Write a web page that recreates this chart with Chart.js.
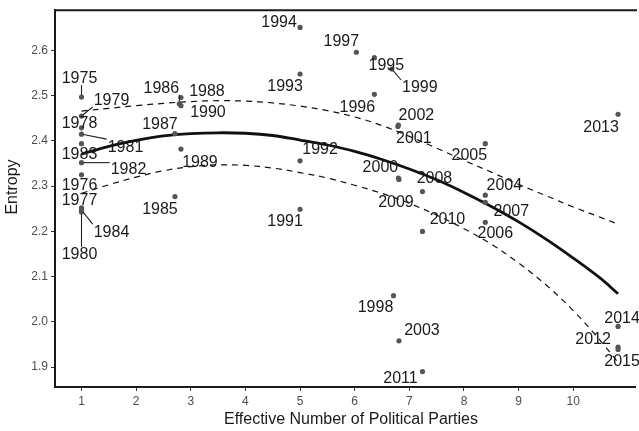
<!DOCTYPE html>
<html>
<head>
<meta charset="utf-8">
<script src="https://cdn.jsdelivr.net/npm/chart.js@4/dist/chart.umd.min.js"></script>
<style>
  html, body { margin: 0; padding: 0; background: #fff; overflow: hidden; }
  canvas { display: block; }
</style>
</head>
<body>
<canvas id="c" width="639" height="431"></canvas>
<script>
// Election years with effective number of parties and entropy
const years = ['1975','1976','1977','1978','1979','1980','1981','1982','1983','1984',
               '1985','1986','1987','1988','1989','1990','1991','1992','1993','1994',
               '1995','1996','1997','1998','1999','2000','2001','2002','2003','2004',
               '2005','2006','2007','2008','2009','2010','2011','2012','2013','2014','2015'];
const enpp = [1, 1, 1, 1, 1, 1, 1, 1, 1, 1,
              2.71, 2.79, 2.71, 2.82, 2.82, 2.82, 5.00, 5.00, 5.00, 5.00,
              6.36, 6.36, 6.03, 6.71, 6.68, 6.80, 6.79, 6.80, 6.81, 8.39,
              8.39, 8.39, 8.39, 7.24, 6.81, 7.24, 7.24, 10.82, 10.82, 10.82, 10.82];
const entropy = [2.497, 2.325, 2.252, 2.429, 2.455, 2.243, 2.415, 2.352, 2.394, 2.247,
                 2.277, 2.482, 2.416, 2.496, 2.382, 2.478, 2.249, 2.356, 2.548, 2.651,
                 2.584, 2.503, 2.596, 2.058, 2.559, 2.318, 2.432, 2.435, 1.958, 2.280,
                 2.394, 2.220, 2.264, 2.288, 2.315, 2.200, 1.890, 1.944, 2.459, 1.990, 1.939];

// Quadratic trend and its confidence band
const fitX     = [1, 1.5, 2, 2.5, 3, 3.5, 4, 4.5, 5, 5.5, 6, 6.5, 7, 7.5, 8, 8.5, 9, 9.5, 10, 10.5, 10.82];
const fitMid   = [2.371, 2.388, 2.401, 2.411, 2.416, 2.418, 2.417, 2.412, 2.402, 2.391, 2.377,
                  2.359, 2.338, 2.314, 2.286, 2.255, 2.221, 2.183, 2.141, 2.096, 2.062];
const fitUpper = [2.466, 2.472, 2.478, 2.483, 2.487, 2.489, 2.488, 2.484, 2.477, 2.467, 2.453,
                  2.434, 2.410, 2.384, 2.357, 2.331, 2.304, 2.279, 2.254, 2.231, 2.216];
const fitLower = [2.284, 2.303, 2.320, 2.334, 2.343, 2.347, 2.346, 2.340, 2.330, 2.318, 2.302,
                  2.284, 2.262, 2.236, 2.206, 2.172, 2.130, 2.082, 2.025, 1.958, 1.910];

const xTicks = [1, 2, 3, 4, 5, 6, 7, 8, 9, 10];
const yTicks = [1.9, 2.0, 2.1, 2.2, 2.3, 2.4, 2.5, 2.6];

// Label placement: offset of each label centre from its point, in pixels
const labelOffsets = {
  '1975': [-2, -19], '1976': [-2, 10], '1977': [-2, -8], '1978': [-2, -5], '1979': [30, -16],
  '1980': [-2, 42], '1981': [44, 12], '1982': [47, 6], '1983': [-2, 10], '1984': [30, 21],
  '1985': [-15, 12], '1986': [-18, -16], '1987': [-15, -10], '1988': [26, -7], '1989': [19, 13],
  '1990': [27, 6], '1991': [-15, 11], '1992': [20, -12], '1993': [-15, 12], '1994': [-21, -6],
  '1995': [12, 7], '1996': [-17, 12], '1997': [-15, -12], '1998': [-18, 11], '1999': [28, 18],
  '2000': [-18, -11], '2001': [16, 11], '2002': [18, -11], '2003': [23, -11], '2004': [19, -11],
  '2005': [-16, 11], '2006': [10, 10], '2007': [26, 8], '2008': [12, -14], '2009': [-3, 22],
  '2010': [25, -13], '2011': [-22, 6], '2012': [-25, -9], '2013': [-17, 12], '2014': [4, -9],
  '2015': [4, 11]
};
const leaderYears = ['1975', '1979', '1980', '1981', '1982', '1984', '1986', '1999'];

const FONT = "'Liberation Sans', Arial, Helvetica, sans-serif";

const pointData = years.map((yr, i) => ({ x: enpp[i], y: entropy[i], label: yr }));
const curve = arr => fitX.map((x, i) => ({ x, y: arr[i] }));

// Year labels with short connector segments
const yearLabels = {
  id: 'yearLabels',
  afterDatasetsDraw(chart) {
    const ctx = chart.ctx;
    const meta = chart.getDatasetMeta(0);
    ctx.save();
    ctx.font = '16px ' + FONT;
    ctx.textAlign = 'center';
    ctx.textBaseline = 'middle';
    meta.data.forEach((el, i) => {
      const yr = years[i];
      const off = labelOffsets[yr] || [0, -12];
      const cx = el.x + off[0], cy = el.y + off[1];
      if (leaderYears.includes(yr)) {
        const w = ctx.measureText(yr).width / 2 + 1, h = 7;
        const nx = Math.max(cx - w, Math.min(el.x, cx + w));
        const ny = Math.max(cy - h, Math.min(el.y, cy + h));
        const dx = el.x - nx, dy = el.y - ny, d = Math.hypot(dx, dy);
        if (d > 3) {
          const ex = el.x - dx / d * 2, ey = el.y - dy / d * 2;
          ctx.beginPath();
          ctx.strokeStyle = '#222';
          ctx.lineWidth = 1.1;
          ctx.moveTo(nx, ny);
          ctx.lineTo(ex, ey);
          ctx.stroke();
        }
      }
      ctx.fillStyle = '#1a1a1a';
      ctx.fillText(yr, cx, cy + 1);
    });
    ctx.restore();
  }
};

// Top frame line and the two axis titles
const frameAndTitles = {
  id: 'frameAndTitles',
  afterDraw(chart) {
    const { ctx, chartArea } = chart;
    ctx.save();
    ctx.strokeStyle = '#1a1a1a';
    ctx.lineWidth = 2;
    ctx.beginPath();
    ctx.moveTo(chartArea.left - 1, chartArea.top);
    ctx.lineTo(chartArea.right + 2, chartArea.top);
    ctx.stroke();

    ctx.fillStyle = '#1a1a1a';
    ctx.font = '16px ' + FONT;
    ctx.textAlign = 'center';
    ctx.textBaseline = 'middle';
    ctx.fillText('Effective Number of Political Parties', 351, 420);
    ctx.translate(13, 187);
    ctx.rotate(-Math.PI / 2);
    ctx.fillText('Entropy', 0, 0);
    ctx.restore();
  }
};

const axisCommon = {
  type: 'linear',
  grid: { display: true, drawOnChartArea: false, drawTicks: true, tickLength: 4, color: '#333', lineWidth: 1 },
  border: { display: true, color: '#1a1a1a', width: 2 },
};

new Chart(document.getElementById('c'), {
  type: 'scatter',
  data: {
    datasets: [
      {
        data: pointData,
        pointRadius: 2.6,
        pointBackgroundColor: '#555',
        pointBorderWidth: 0,
        showLine: false
      },
      {
        type: 'line',
        data: curve(fitMid),
        borderColor: '#111',
        borderWidth: 2.8,
        pointRadius: 0,
        tension: 0.35,
        fill: false
      },
      {
        type: 'line',
        data: curve(fitUpper),
        borderColor: '#111',
        borderWidth: 1.2,
        borderDash: [6, 5],
        pointRadius: 0,
        tension: 0.35,
        fill: false
      },
      {
        type: 'line',
        data: curve(fitLower),
        borderColor: '#111',
        borderWidth: 1.2,
        borderDash: [6, 5],
        pointRadius: 0,
        tension: 0.35,
        fill: false
      }
    ]
  },
  options: {
    responsive: false,
    animation: false,
    layout: { padding: { top: 9, right: 0, left: 0, bottom: 0 } },
    plugins: { legend: { display: false }, tooltip: { enabled: false }, title: { display: false } },
    scales: {
      x: Object.assign({}, axisCommon, {
        min: 0.515, max: 11.13,
        afterBuildTicks: s => { s.ticks = xTicks.map(v => ({ value: v })); },
        afterFit: s => { s.height = 44; },
        ticks: { font: { family: FONT, size: 12 }, color: '#4d4d4d', padding: 3,
                 maxRotation: 0, autoSkip: false, callback: v => String(v) }
      }),
      y: Object.assign({}, axisCommon, {
        min: 1.856, max: 2.689,
        afterBuildTicks: s => { s.ticks = yTicks.map(v => ({ value: v })); },
        afterFit: s => { s.width = 55; },
        ticks: { font: { family: FONT, size: 12 }, color: '#4d4d4d', padding: 3,
                 autoSkip: false, callback: v => Number(v).toFixed(1) }
      })
    }
  },
  plugins: [yearLabels, frameAndTitles]
});
</script>
</body>
</html>
